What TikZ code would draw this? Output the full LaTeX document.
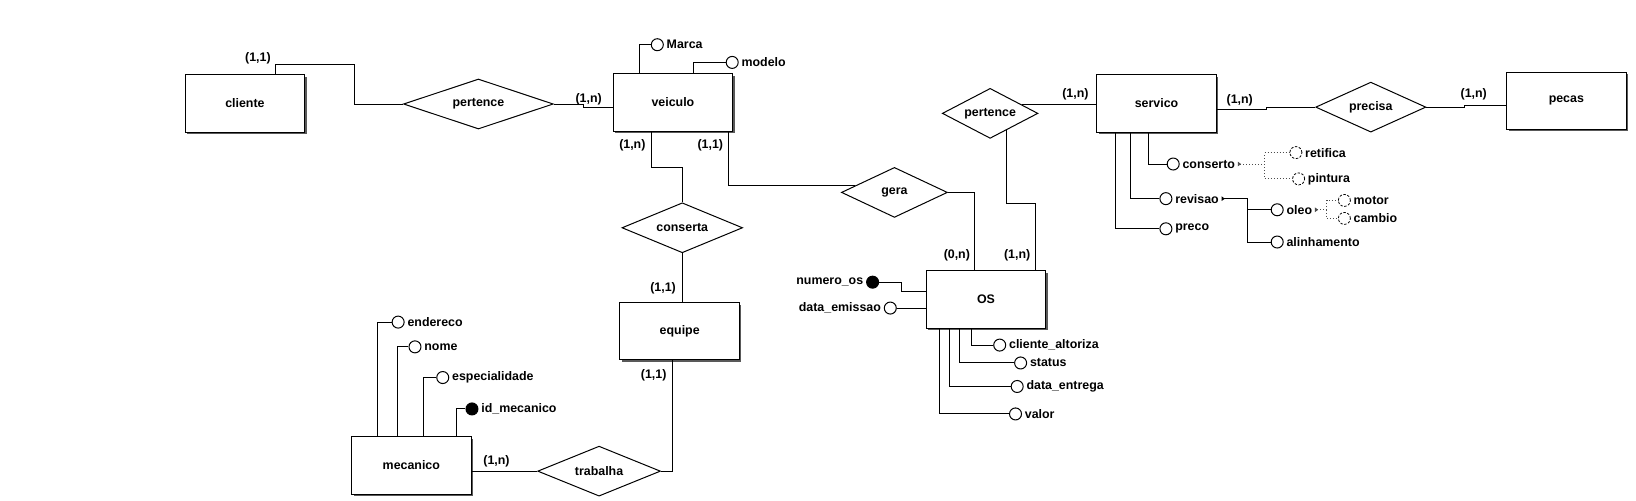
\documentclass[tikz,border=0pt]{standalone}
\usepackage{fontspec}
\setmainfont{Liberation Sans}
\usetikzlibrary{shapes.geometric,positioning,arrows.meta,shadows}

\tikzset{
  entidade/.style={draw, fill=white, minimum width=59.8pt, minimum height=28.6pt, inner sep=0pt,
    drop shadow={shadow xshift=1pt, shadow yshift=-1pt, fill=black!65, opacity=1}},
  relac/.style={diamond, aspect=3, draw, fill=white, inner sep=0pt, minimum height=25pt},
  atrib/.style={circle, draw, fill=white, minimum size=6pt, inner sep=0pt},
  chave/.style={atrib, fill=black},
  atribopc/.style={atrib, line width=0.4pt, dash pattern=on 1.2pt off 0.8pt},
  rotulo/.style={inner sep=1.2pt},
  card/.style={inner sep=0pt},
  sub/.style={densely dotted, black!70},
  seta/.style={{Triangle[reversed,length=1.6pt,width=2.2pt]}-},
}

\begin{document}
\begin{tikzpicture}[x=0.52pt, y=-0.52pt, line width=0.5pt, font=\fontsize{6.2}{7}\selectfont\bfseries]
\useasboundingbox (0,0) rectangle (1573,481.7);

% entidades
\node[entidade] (cliente) at (235.5,99.5) {cliente};
\node[entidade] (veiculo) at (647,98.5) {veiculo};
\node[entidade] (servico) at (1112,99.5) {servico};
\node[entidade] (pecas) at (1506,97) {pecas};
\node[entidade] (equipe) at (653.5,318.5) {equipe};
\node[entidade] (mecanico) at (395.5,447.5) {mecanico};
\node[entidade] (os) at (948,288) {OS};

% relacionamentos
\node[relac, minimum width=74.9pt] (pertence1) at (460,100) {pertence};
\node[relac, minimum width=60.3pt] (conserta) at (656,219) {conserta};
\node[relac, minimum width=53pt] (gera) at (860,185) {gera};
\node[relac, minimum width=47.8pt] (pertence2) at (952,109) {pertence};
\node[relac, minimum width=61.4pt] (trabalha) at (576,453) {trabalha};
\node[relac, minimum width=55.1pt] (precisa) at (1318,103) {precisa};

% atributos (texto a direita)
\foreach \n/\x/\y/\t in {marca/632/43/Marca, modelo/704/60/modelo,
    endereco/382.8/309.7/endereco, nome/399/333.5/nome, espec/425.7/363/especialidade,
    altoriza/961.2/331.8/cliente\_altoriza, status/981.3/349/status,
    entrega/978/371.6/data\_entrega, valor/976.4/398/valor,
    conserto/1128/157.7/conserto, revisao/1121/191/revisao, preco/1121/220/preco,
    oleo/1228/201.7/oleo, alinha/1228/232.7/alinhamento}{
  \node[atrib] (a-\n) at (\x,\y) {};
  \node[rotulo, right=0pt of a-\n] (t-\n) {\t};
}
\foreach \n/\x/\y/\t in {retifica/1246/146.7/retifica, pintura/1248.6/172/pintura,
    motor/1292.6/192.7/motor, cambio/1292.6/210/cambio}{
  \node[atribopc] (a-\n) at (\x,\y) {};
  \node[rotulo, right=0pt of a-\n] (t-\n) {\t};
}
\node[chave] (a-idmec) at (453.8,393.2) {};
\node[rotulo, right=0pt of a-idmec] (t-idmec) {id\_mecanico};
\node[chave] (a-numero) at (839,271.3) {};
\node[rotulo, left=0pt of a-numero] (t-numero) {numero\_os};
\node[atrib] (a-emissao) at (856,296.2) {};
\node[rotulo, left=0pt of a-emissao] (t-emissao) {data\_emissao};

% cardinalidades
\node[card] (c1) at (248,56) {(1,1)};
\node[card] (c2) at (566,95) {(1,n)};
\node[card] (c3) at (608,140) {(1,n)};
\node[card] (c4) at (683,140) {(1,1)};
\node[card] (c5) at (637.5,277) {(1,1)};
\node[card] (c6) at (628.5,361) {(1,1)};
\node[card] (c7) at (477.4,444) {(1,n)};
\node[card] (c8) at (920,245) {(0,n)};
\node[card] (c9) at (978,245) {(1,n)};
\node[card] (c10) at (1034,91) {(1,n)};
\node[card] (c11) at (1192,96) {(1,n)};
\node[card] (c12) at (1417,91) {(1,n)};

% ligacoes
\draw (cliente.north -| 265,0) |- (341,62) |- (pertence1.west);
\draw (pertence1.east) -- (561,100) |- (veiculo.west |- 0,103);
\draw (veiculo.south -| 626,0) |- (conserta.north |- 0,161) -- (conserta.north);
\draw (veiculo.south -| 700,0) |- (gera.170);
\draw (conserta.south) -- (conserta.south |- equipe.north);
\draw (equipe.south -| 646.7,0) |- (trabalha.east);
\draw (trabalha.west) -- (trabalha.west -| mecanico.east);
\draw (gera.east) -| (os.north -| 937,0);
\draw (pertence2.-45) |- (996,196) -- (os.north -| 996,0);
\draw (pertence2.15) -- (pertence2.15 -| servico.west);
\draw (servico.east |- 0,105) -- (1218,105) |- (precisa.west);
\draw (precisa.east) -- (1408,103) |- (pecas.west |- 0,101);

% ligacoes dos atributos
\draw (veiculo.north -| 615,0) |- (a-marca.west);
\draw (veiculo.north -| 667,0) |- (a-modelo.west);
\foreach \n/\x in {endereco/362.8, nome/382, espec/407.4, idmec/438.6}
  \draw (mecanico.north -| \x,0) |- (a-\n.west);
\draw (a-numero.east) -- (867,271.3) |- (os.west |- 0,280);
\draw (a-emissao.east) -- (a-emissao.east -| os.west);
\foreach \n/\x in {altoriza/933.7, status/922.4, entrega/912.7, valor/903}
  \draw (os.south -| \x,0) |- (a-\n.west);
\foreach \n/\x in {conserto/1104, revisao/1086.5, preco/1073}
  \draw (servico.south -| \x,0) |- (a-\n.west);
\draw[sub, seta] (t-conserto.east) -- (1216,157.7) |- (a-retifica.west);
\draw[sub] (1216,157.7) |- (a-pintura.west);
\draw[seta] (t-revisao.east) -- (1199,191) |- (a-alinha.west);
\draw (1199,191) |- (a-oleo.west);
\draw[sub, seta] (t-oleo.east) -- (1275.5,201.7) |- (a-motor.west);
\draw[sub] (1275.5,201.7) |- (a-cambio.west);
\end{tikzpicture}
\end{document}
